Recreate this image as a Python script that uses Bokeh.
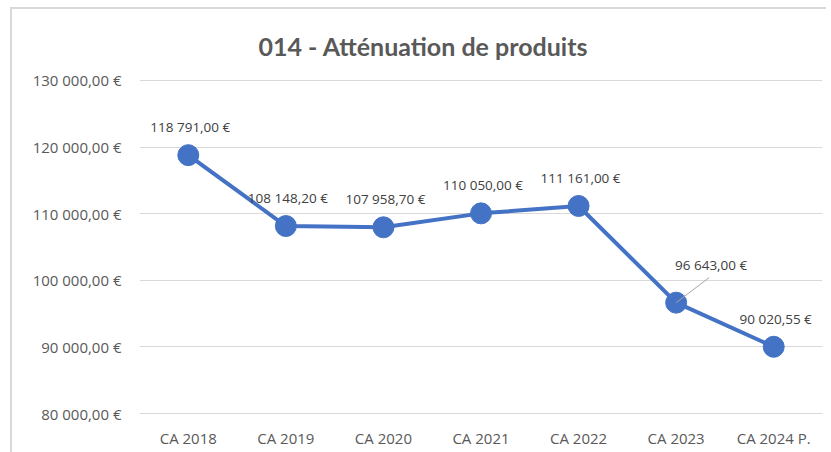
from bokeh.plotting import figure
from bokeh.models import Range1d, FixedTicker, ColumnDataSource, InlineStyleSheet
from bokeh.core.properties import value
from bokeh.embed import file_html
from bokeh.resources import INLINE

categories = ["CA 2018", "CA 2019", "CA 2020", "CA 2021", "CA 2022", "CA 2023", "CA 2024 P."]
values = [118791.00, 108148.20, 107958.70, 110050.00, 111161.00, 96643.00, 90020.55]
y_ticks = [80000, 90000, 100000, 110000, 120000, 130000]
title_text = "014 - Atténuation de produits"

def fr(v):
    s = f"{v:,.2f}"
    ent, dec = s.split(".")
    return ent.replace(",", " ") + "," + dec + " €"

y_tick_labels = {t: fr(t) for t in y_ticks}
labels = [fr(v) for v in values]

FONT = "Open Sans"
BLUE = "#4472C4"
GREY_TXT = "#595959"

W, H = 826, 452
LEFT, TOP = 139, 78
p = figure(width=W, height=H, output_backend="svg", toolbar_location=None,
           x_range=Range1d(-0.5, len(categories) - 0.5),
           y_range=Range1d(y_ticks[0] - 300, y_ticks[-1] + 300),
           min_border_left=LEFT, min_border_right=4, min_border_top=TOP, min_border_bottom=37)
p.outline_line_color = None
p.background_fill_color = "white"
p.border_fill_color = "white"

xs = list(range(len(categories)))

p.xaxis.ticker = FixedTicker(ticks=xs)
p.xaxis.major_label_overrides = {i: c for i, c in enumerate(categories)}
p.yaxis.ticker = FixedTicker(ticks=y_ticks)
p.yaxis.major_label_overrides = y_tick_labels
for ax in (p.xaxis[0], p.yaxis[0]):
    ax.axis_line_color = None
    ax.major_tick_line_color = None
    ax.minor_tick_line_color = None
    ax.major_tick_out = 0
    ax.major_tick_in = 0
    ax.minor_tick_out = 0
    ax.minor_tick_in = 0
    ax.major_label_text_font = FONT
    ax.major_label_text_font_size = "15px"
    ax.major_label_text_color = GREY_TXT
p.xaxis.major_label_standoff = 12
p.yaxis.major_label_standoff = 18
p.xgrid.grid_line_color = None
p.ygrid.grid_line_color = "#d9d9d9"
p.ygrid.grid_line_width = 1

src = ColumnDataSource(dict(x=xs, y=values, label=labels))
p.line("x", "y", source=src, line_color=BLUE, line_width=4)
p.scatter("x", "y", source=src, size=21, fill_color=BLUE, line_color=BLUE)

lab_idx = [i for i in xs if i != 5]
src_l = ColumnDataSource(dict(x=[xs[i] for i in lab_idx], y=[values[i] for i in lab_idx],
                              label=[labels[i] for i in lab_idx]))
p.text("x", "y", text="label", source=src_l, x_offset=2, y_offset=-28,
       text_align="center", text_baseline="middle", text_font=value(FONT),
       text_font_size="13.5px", text_color="#404040")
p.text([xs[5]], [values[5]], text=[labels[5]], x_offset=35, y_offset=-38,
       text_align="center", text_baseline="middle", text_font=value(FONT),
       text_font_size="13.5px", text_color="#404040")
px_x = 683 / len(categories)
px_y = 333 / (y_ticks[-1] - y_ticks[0])
p.segment([xs[5]], [values[5]], [xs[5] + 33 / px_x], [values[5] + 25 / px_y],
          line_color="#a6a6a6", line_width=1)

p.title.text = title_text
p.title.align = "left"
p.title.offset = 258 - LEFT
p.title.standoff = 35
p.title.text_font = "Lato"
p.title.text_font_size = "25px"
p.title.text_font_style = "bold"
p.title.text_color = GREY_TXT

# chart-area border (left and top edges visible in the reference)
p.stylesheets = [InlineStyleSheet(css=(
    ":host::after { content: ''; position: absolute; left: 10px; top: 7px; right: 0; bottom: 0;"
    " border-left: 2px solid #d9d9d9; border-top: 2px solid #d9d9d9; pointer-events: none; z-index: 10; }"))]

open("out.html", "w").write(file_html(p, INLINE))
